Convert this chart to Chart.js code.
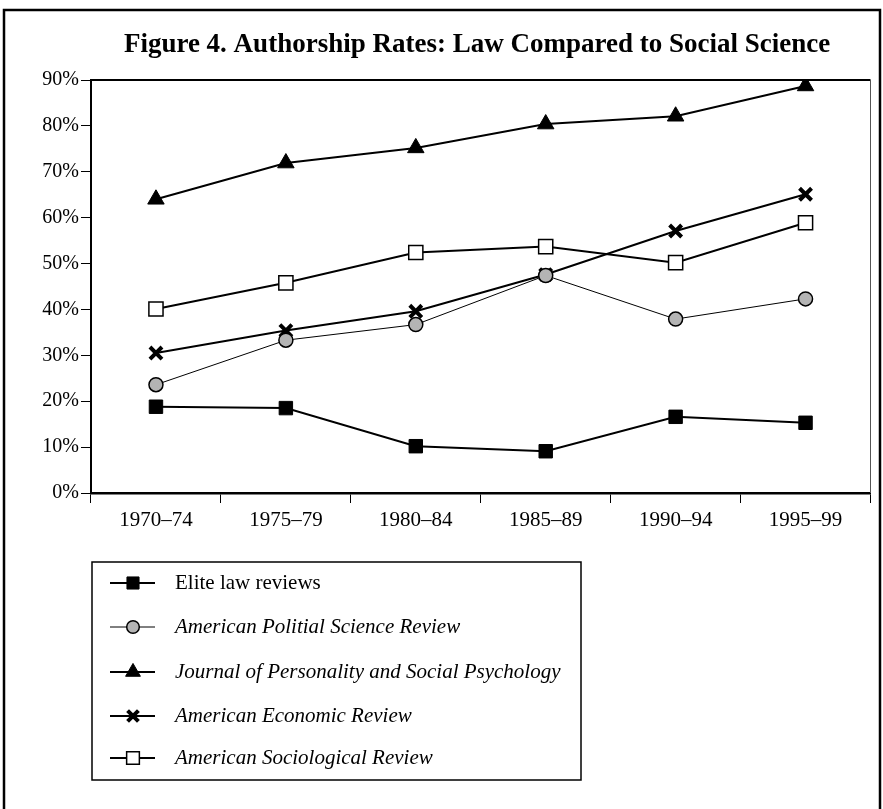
<!DOCTYPE html>
<html>
<head>
<meta charset="utf-8">
<script src="https://cdn.jsdelivr.net/npm/chart.js@4.4.0/dist/chart.umd.min.js"></script>
<style>
  html, body { margin: 0; padding: 0; background: #fff; }
  #chart { display: block; }
</style>
</head>
<body>
<canvas id="chart" width="883" height="809"></canvas>
<script>
// data
const periods = ['1970–74', '1975–79', '1980–84', '1985–89', '1990–94', '1995–99'];
const yTicks = [0, 10, 20, 30, 40, 50, 60, 70, 80, 90];

const eliteLaw = [18.8, 18.5, 10.2, 9.1, 16.6, 15.3];
const polSci = [23.6, 33.3, 36.7, 47.4, 37.9, 42.3];
const personality = [64.0, 71.9, 75.2, 80.4, 82.1, 88.7];
const economic = [30.5, 35.4, 39.6, 47.6, 57.1, 65.1];
const sociological = [40.1, 45.8, 52.4, 53.7, 50.2, 58.9];

const titleText = 'Figure 4. Authorship Rates: Law Compared to Social Science';
const seriesNames = [
    'Elite law reviews',
    'American Politial Science Review',
    'Journal of Personality and Social Psychology',
    'American Economic Review',
    'American Sociological Review'
];

const SERIF = '"Liberation Serif", "DejaVu Serif", serif';
const ctx = document.getElementById('chart');

// chart area edges (px)
const AREA = {left: 91, right: 871, top: 80, bottom: 493};

const datasets = [
    {
        label: seriesNames[0], data: eliteLaw, italic: false,
        borderColor: '#000', borderWidth: 2,
        pointStyle: 'rect', pointRadius: 9.5, pointBackgroundColor: '#000',
        pointBorderColor: '#000', pointBorderWidth: 1
    },
    {
        label: seriesNames[1], data: polSci, italic: true,
        borderColor: '#000', borderWidth: 1,
        pointStyle: 'circle', pointRadius: 7, pointBackgroundColor: '#b4b4b4',
        pointBorderColor: '#000', pointBorderWidth: 1.5
    },
    {
        label: seriesNames[2], data: personality, italic: true,
        borderColor: '#000', borderWidth: 2,
        pointStyle: 'triangle', pointRadius: 9.5, pointBackgroundColor: '#000',
        pointBorderColor: '#000', pointBorderWidth: 1
    },
    {
        label: seriesNames[3], data: economic, italic: true,
        borderColor: '#000', borderWidth: 2,
        pointStyle: 'crossRot', pointRadius: 8.5, pointBackgroundColor: '#000',
        pointBorderColor: '#000', pointBorderWidth: 4
    },
    {
        label: seriesNames[4], data: sociological, italic: true,
        borderColor: '#000', borderWidth: 2,
        pointStyle: 'rect', pointRadius: 10, pointBackgroundColor: '#fff',
        pointBorderColor: '#000', pointBorderWidth: 1.5
    }
];
datasets.forEach(d => { d.tension = 0; d.fill = false; d.pointHoverRadius = d.pointRadius; });

// page frame, title, plot frame and the boxed legend
const decorations = {
    id: 'decorations',
    beforeDraw(chart) {
        const c = chart.ctx;
        c.save();
        c.fillStyle = '#fff';
        c.fillRect(0, 0, chart.width, chart.height);
        c.restore();
    },
    afterDraw(chart) {
        const c = chart.ctx;
        const a = chart.chartArea;
        c.save();

        // outer box
        c.strokeStyle = '#000';
        c.lineWidth = 2.5;
        c.strokeRect(4, 10, 876, 820);

        // title
        c.fillStyle = '#000';
        c.font = 'bold 27px ' + SERIF;
        c.textAlign = 'center';
        c.textBaseline = 'middle';
        c.fillText(titleText, 477, 45);

        // top and right frame of the plot
        c.lineWidth = 2;
        c.beginPath();
        c.moveTo(a.left, a.top);
        c.lineTo(a.right, a.top);
        c.stroke();
        c.lineWidth = 1;
        c.strokeStyle = '#555';
        c.beginPath();
        c.moveTo(a.right, a.top);
        c.lineTo(a.right, a.bottom);
        c.stroke();

        // legend box
        c.strokeStyle = '#000';
        c.lineWidth = 1.5;
        c.strokeRect(92, 562, 489, 218);
        const rowY = [583, 627, 672, 716, 758];
        chart.data.datasets.forEach((ds, i) => {
            const y = rowY[i];
            c.strokeStyle = '#000';
            c.lineWidth = ds.borderWidth;
            c.beginPath();
            c.moveTo(110, y);
            c.lineTo(155, y);
            c.stroke();
            c.fillStyle = ds.pointBackgroundColor;
            c.strokeStyle = ds.pointBorderColor;
            c.lineWidth = ds.pointBorderWidth;
            Chart.helpers.drawPoint(c, {
                pointStyle: ds.pointStyle,
                radius: ds.pointRadius * 0.9,
                rotation: 0,
                borderWidth: ds.pointBorderWidth
            }, 133, y);
            c.fillStyle = '#000';
            c.font = (ds.italic ? 'italic ' : '') + '21px ' + SERIF;
            c.textAlign = 'left';
            c.textBaseline = 'middle';
            c.fillText(ds.label, 175, y);
        });
        c.restore();
    }
};

new Chart(ctx, {
    type: 'line',
    data: {labels: periods, datasets: datasets},
    plugins: [decorations],
    options: {
        responsive: false,
        animation: false,
        devicePixelRatio: 1,
        layout: {padding: {top: AREA.top, right: 883 - AREA.right, left: 0, bottom: 0}},
        plugins: {
            legend: {display: false},
            title: {display: false},
            tooltip: {enabled: false}
        },
        scales: {
            x: {
                type: 'category',
                offset: true,
                grid: {offset: true, drawOnChartArea: false, tickLength: 10, color: '#000', lineWidth: 1},
                border: {color: '#000', width: 2.5},
                ticks: {
                    color: '#000', padding: 5, maxRotation: 0,
                    font: {family: SERIF, size: 21}
                },
                afterFit(scale) { scale.height = 809 - AREA.bottom; }
            },
            y: {
                min: 0,
                max: 90,
                afterBuildTicks(scale) { scale.ticks = yTicks.map(v => ({value: v})); },
                grid: {drawOnChartArea: false, tickLength: 10, color: '#000', lineWidth: 1},
                border: {color: '#000', width: 2},
                ticks: {
                    color: '#000', padding: 2,
                    font: {family: SERIF, size: 20},
                    callback: v => v + '%'
                },
                afterFit(scale) { scale.width = AREA.left; }
            }
        }
    }
});
</script>
</body>
</html>
